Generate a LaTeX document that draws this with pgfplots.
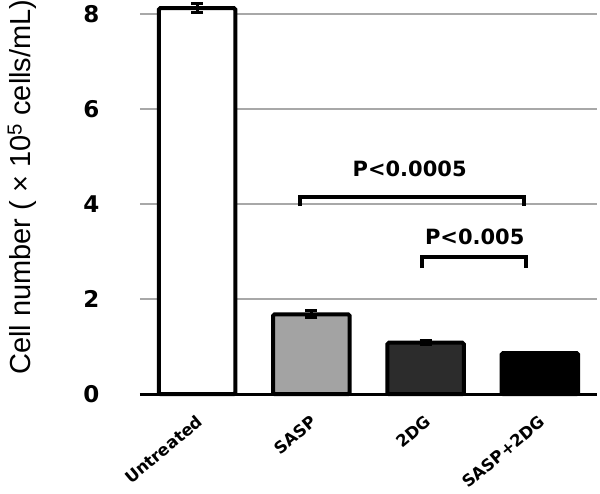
\documentclass[border=0pt]{standalone}
\usepackage{fontspec}
\setmainfont{Liberation Sans}
\newfontfamily\djv{DejaVu Sans}
\usepackage{pgfplots}
\pgfplotsset{compat=1.18}
\definecolor{gridc}{HTML}{A8A8A8}
\definecolor{lightbar}{HTML}{A3A3A3}
\definecolor{darkbar}{HTML}{2C2C2C}
\pgfplotsset{
  cellbar/.style={ybar, bar width=0.67, bar shift=0pt, draw=black, line width=4pt,
    rounded corners=1.5pt, mark=none,
    error bars/y dir=both, error bars/y explicit,
    error bars/error bar style={line width=3pt, sharp corners},
    error bars/error mark options={rotate=90, mark size=6pt, line width=3pt}},
  bracket/.style={black, line width=4pt, mark=none},
}

\begin{document}
\begin{tikzpicture}
\begin{axis}[
  scale only axis, width=457pt, height=394pt,
  xmin=-0.5, xmax=3.5, ymin=0, ymax=8.3,
  clip=false,
  axis lines*=left,
  x axis line style={black, line width=3pt},
  y axis line style={draw=none},
  major tick length=0pt,
  xtick={0,1,2,3},
  xticklabels={Untreated,SASP,2DG,SASP+2DG},
  ytick={0,2,4,6,8},
  ymajorgrids,
  grid style={gridc, line width=1.5pt},
  /pgf/number format/assume math mode=true,
  yticklabel style={font=\djv\bfseries\fontsize{23}{23}\selectfont, xshift=-37pt},
  xticklabel style={font=\djv\bfseries\fontsize{16.5}{16.5}\selectfont, rotate=40,
    anchor=east, inner sep=0pt, xshift=-14pt, yshift=-21pt},
  ylabel={Cell number ( × 10\textsuperscript{5} cells/mL)},
  ylabel style={font=\fontsize{29}{29}\selectfont, at={(axis description cs:-0.258,0.525)}, anchor=center},
]
% bars: mean +- error
\addplot[cellbar, fill=white] coordinates {(0,8.13) +- (0,0.10)};
\addplot[cellbar, fill=lightbar] coordinates {(1,1.68) +- (0,0.07)};
\addplot[cellbar, fill=darkbar] coordinates {(2,1.08) +- (0,0.04)};
\addplot[cellbar, fill=black] coordinates {(3,0.86) +- (0,0.01)};

% significance brackets
\addplot[bracket] coordinates {(0.90,3.96) (0.90,4.15) (2.86,4.15) (2.86,3.96)};
\addplot[bracket] coordinates {(1.97,2.65) (1.97,2.89) (2.88,2.89) (2.88,2.65)};
\node[font=\djv\bfseries\fontsize{21}{21}\selectfont] at (axis cs:1.86,4.74) {P<0.0005};
\node[font=\djv\bfseries\fontsize{21}{21}\selectfont] at (axis cs:2.43,3.31) {P<0.005};
\end{axis}
\pgfresetboundingbox
\path (current axis.south west) ++(-140pt,-99pt) rectangle ++(600pt,493pt);
\end{tikzpicture}
\end{document}
